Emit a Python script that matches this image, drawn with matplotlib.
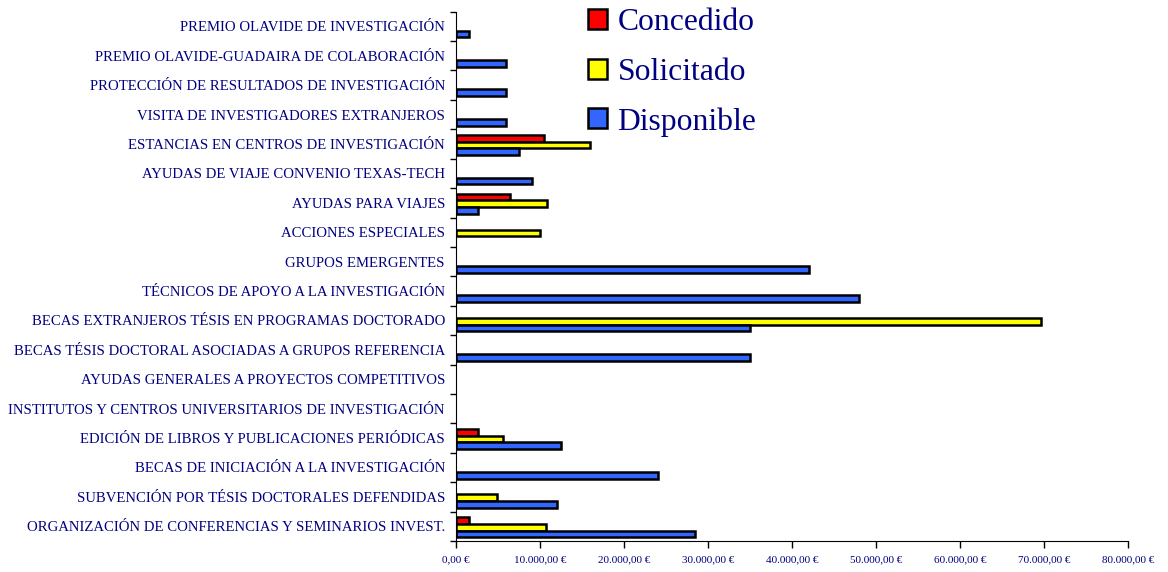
import numpy as np
import matplotlib
matplotlib.use('Agg')
import matplotlib.pyplot as plt
from matplotlib.ticker import FuncFormatter, MultipleLocator

categorias = ['PREMIO OLAVIDE DE INVESTIGACIÓN',
              'PREMIO OLAVIDE-GUADAIRA DE COLABORACIÓN',
              'PROTECCIÓN DE RESULTADOS DE INVESTIGACIÓN',
              'VISITA DE INVESTIGADORES EXTRANJEROS',
              'ESTANCIAS EN CENTROS DE INVESTIGACIÓN',
              'AYUDAS DE VIAJE CONVENIO TEXAS-TECH',
              'AYUDAS PARA VIAJES',
              'ACCIONES ESPECIALES',
              'GRUPOS EMERGENTES',
              'TÉCNICOS DE APOYO A LA INVESTIGACIÓN',
              'BECAS EXTRANJEROS TÉSIS EN PROGRAMAS DOCTORADO',
              'BECAS TÉSIS DOCTORAL ASOCIADAS A GRUPOS REFERENCIA',
              'AYUDAS GENERALES A PROYECTOS COMPETITIVOS',
              'INSTITUTOS Y CENTROS UNIVERSITARIOS DE INVESTIGACIÓN',
              'EDICIÓN DE LIBROS Y PUBLICACIONES PERIÓDICAS',
              'BECAS DE INICIACIÓN A LA INVESTIGACIÓN',
              'SUBVENCIÓN POR TÉSIS DOCTORALES DEFENDIDAS',
              'ORGANIZACIÓN DE CONFERENCIAS Y SEMINARIOS INVEST.']
concedido = [0, 0, 0, 0, 10500, 0, 6400, 0, 0, 0, 0, 0, 0, 0, 2600, 0, 0, 1600]
solicitado = [0, 0, 0, 0, 15900, 0, 10800, 10000, 0, 0, 69600, 0, 0, 0, 5600, 0, 4900, 10700]
disponible = [1500, 6000, 6000, 6000, 7500, 9000, 2600, 0, 42000, 48000, 35000, 35000, 0, 0, 12500, 24000, 12000, 28500]

azul_texto = '#000080'
plt.rcParams['font.family'] = ['Liberation Serif', 'DejaVu Serif']

fig = plt.figure(figsize=(11.68, 5.72), dpi=100)
ax = fig.add_axes([0.3904, 0.0542, 0.5756, 0.9254])

n = len(categorias)
y = n - 1 - np.arange(n)
h = 0.23
series = [(concedido, '#FF0000', 'Concedido', 0.2),
          (solicitado, '#FFFF00', 'Solicitado', -0.03),
          (disponible, '#3366FF', 'Disponible', -0.26)]
for vals, color, nombre, off in series:
    vals = np.array(vals, dtype=float)
    m = vals > 0
    ax.barh(y[m] + off, vals[m], height=h, color=color, edgecolor='black',
            linewidth=1.8, label=nombre)

ax.set_xlim(0, 80000)
ax.set_ylim(-0.5, n - 0.5)
ax.xaxis.set_major_locator(MultipleLocator(10000))

def euros(v, pos):
    s = '{:,.2f}'.format(v).replace(',', 'X').replace('.', ',').replace('X', '.')
    return s + ' €'

ax.xaxis.set_major_formatter(FuncFormatter(euros))
ax.set_yticks(y)
ax.set_yticklabels(categorias)
ax.set_yticks(np.arange(n + 1) - 0.5, minor=True)
ax.tick_params(axis='y', which='major', length=0, pad=8, labelsize=10.6, labelcolor=azul_texto)
ax.tick_params(axis='y', which='minor', length=4, width=1, direction='out')
ax.tick_params(axis='x', length=5, width=1, direction='out', labelsize=8, labelcolor=azul_texto, pad=5)

ax.spines['top'].set_visible(False)
ax.spines['right'].set_visible(False)

leg = fig.legend(loc='upper left', bbox_to_anchor=(0.479, 1.035), frameon=False,
                 fontsize=22.8, handlelength=0.6, handleheight=0.6, handletextpad=0.33,
                 labelspacing=0.64)
for t in leg.get_texts():
    t.set_color(azul_texto)

fig.savefig('out.png', dpi=100)
